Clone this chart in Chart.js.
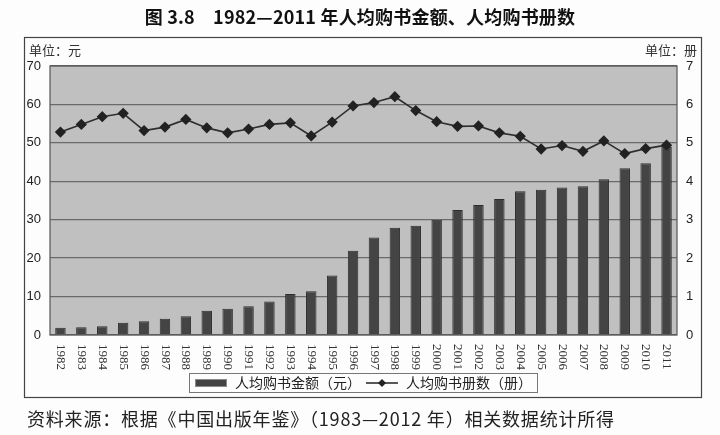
<!DOCTYPE html>
<html><head><meta charset="utf-8">
<script src="https://cdn.jsdelivr.net/npm/chart.js@4.4.1/dist/chart.umd.min.js"></script>
<style>
html,body{margin:0;padding:0;background:#fff;}
#wrap{position:relative;width:720px;height:435px;overflow:hidden;background:#fdfdfd;}
canvas{position:absolute;left:0;top:0;}
#title{position:absolute;left:0;top:6px;width:720px;text-align:center;font:bold 18px/20px "Noto Sans CJK SC";color:#111;letter-spacing:0.2px;}
#src{position:absolute;left:27px;top:407px;font:18px/22px "Noto Sans CJK SC";color:#222;letter-spacing:0.8px;}
.unit{position:absolute;top:42px;font:13px/16px "Noto Sans CJK SC";color:#333;}
</style></head>
<body><div id="wrap">
<canvas id="c" width="720" height="435"></canvas>
<div id="title">图 3.8　1982—2011 年人均购书金额、人均购书册数</div>
<div class="unit" style="left:29px">单位：元</div>
<div class="unit" style="right:23px">单位：册</div>
<div id="src">资料来源：根据《中国出版年鉴》（1983—2012 年）相关数据统计所得</div>
</div>
<script>
const years = ['1982','1983','1984','1985','1986','1987','1988','1989','1990','1991','1992','1993','1994','1995','1996','1997','1998','1999','2000','2001','2002','2003','2004','2005','2006','2007','2008','2009','2010','2011'];
const amountYuan = [1.9,2.0,2.25,3.2,3.6,4.2,4.9,6.3,6.8,7.5,8.7,10.7,11.4,15.5,21.9,25.4,27.9,28.4,30.0,32.5,33.8,35.4,37.4,37.8,38.4,38.7,40.5,43.4,44.7,49.0];
const copiesBooks = [5.28,5.48,5.68,5.77,5.32,5.41,5.61,5.39,5.26,5.36,5.48,5.52,5.18,5.54,5.96,6.05,6.2,5.84,5.55,5.43,5.44,5.26,5.17,4.84,4.93,4.78,5.05,4.72,4.85,4.94];
const leftTicks = [0,10,20,30,40,50,60,70];
const rightTicks = [0,1,2,3,4,5,6,7];
const seriesNames = ['人均购书金额（元）','人均购书册数（册）'];

// legend icons
const barIcon = document.createElement('canvas');
barIcon.width = 32; barIcon.height = 8;
(function(){const g=barIcon.getContext('2d');g.fillStyle='#444';g.fillRect(0,0,32,8);g.strokeStyle='#8a8a8a';g.lineWidth=1;g.strokeRect(0.5,0.5,31,7);})();
const lineIcon = document.createElement('canvas');
lineIcon.width = 32; lineIcon.height = 10;
(function(){const g=lineIcon.getContext('2d');g.strokeStyle='#222';g.lineWidth=1.5;g.beginPath();g.moveTo(0,5);g.lineTo(32,5);g.stroke();
g.fillStyle='#222';g.beginPath();g.moveTo(16,1);g.lineTo(20,5);g.lineTo(16,9);g.lineTo(12,5);g.closePath();g.fill();})();

const deco = {
  id:'deco',
  beforeDraw(chart){
    const a = chart.chartArea, ctx = chart.ctx;
    ctx.save();
    ctx.fillStyle = '#c0c0c0';
    ctx.fillRect(a.left, a.top, a.right-a.left, a.bottom-a.top);
    ctx.restore();
  },
  beforeDatasetsDraw(chart){
    const a = chart.chartArea, ctx = chart.ctx;
    ctx.save();
    ctx.strokeStyle = '#555'; ctx.lineWidth = 1.2;
    ctx.strokeRect(a.left, a.top, a.right-a.left, a.bottom-a.top);
    ctx.restore();
  },
  afterDraw(chart){
    const a = chart.chartArea, ctx = chart.ctx, xs = chart.scales.x;
    ctx.save();
    ctx.fillStyle = '#333';
    ctx.font = '13px "Liberation Serif"';
    ctx.textAlign = 'left'; ctx.textBaseline = 'middle';
    years.forEach((y,i)=>{
      const x = xs.getPixelForTick(i);
      ctx.save(); ctx.translate(x, a.bottom + 9); ctx.rotate(Math.PI/2);
      ctx.fillText(y, 0, 0); ctx.restore();
    });
    ctx.strokeStyle = '#444'; ctx.lineWidth = 1.2;
    ctx.strokeRect(24.5, 37.5, 677, 360);
    const hb = chart.legend.legendHitBoxes;
    if (hb && hb.length){
      let l = Infinity, r = -Infinity, t = Infinity, b = -Infinity;
      hb.forEach(h=>{l=Math.min(l,h.left);r=Math.max(r,h.left+h.width);t=Math.min(t,h.top);b=Math.max(b,h.top+h.height);});
      ctx.strokeStyle = '#777'; ctx.lineWidth = 1;
      ctx.strokeRect(Math.round(l-5)+0.5, Math.round(t-3)+0.5, Math.round(r-l+10), Math.round(b-t+5));
    }
    ctx.restore();
  }
};

new Chart(document.getElementById('c'), {
  data: {
    labels: years,
    datasets: [
      { type:'bar', label: seriesNames[0], data: amountYuan, yAxisID:'y', order:1,
        backgroundColor:'#444', borderColor:'#2e2e2e', borderWidth:1,
        barPercentage:0.5, categoryPercentage:1.0 },
      { type:'line', label: seriesNames[1], data: copiesBooks, yAxisID:'y1', order:0,
        borderColor:'#2e2e2e', borderWidth:1.6, pointStyle:'rectRot', pointRadius:4.5,
        pointBackgroundColor:'#222', pointBorderColor:'#222', tension:0 }
    ]
  },
  options: {
    responsive:false, animation:false, devicePixelRatio:1,
    layout:{ padding:{ top:66, left:24, right:18, bottom:35 } },
    plugins:{
      tooltip:{enabled:false},
      title:{display:false},
      legend:{
        position:'bottom',
        labels:{
          usePointStyle:true, pointStyleWidth:34, boxHeight:14, padding:4,
          color:'#222', font:{size:14, family:'"Noto Sans CJK SC"'},
          generateLabels(){
            return [
              {text:seriesNames[0], pointStyle:barIcon, datasetIndex:0, hidden:false, fontColor:'#222', lineWidth:0, strokeStyle:'transparent', fillStyle:'#444'},
              {text:seriesNames[1], pointStyle:lineIcon, datasetIndex:1, hidden:false, fontColor:'#222', lineWidth:0, strokeStyle:'transparent', fillStyle:'#222'}
            ];
          }
        }
      }
    },
    scales:{
      x:{
        grid:{display:false}, border:{display:false},
        ticks:{display:false},
        afterFit(s){ s.height = 37; }
      },
      y:{
        position:'left', min:0, max:70,
        afterBuildTicks(s){ s.ticks = leftTicks.map(v=>({value:v})); },
        grid:{color:'#6a6a6a', lineWidth:1.3, drawTicks:false},
        border:{display:false},
        ticks:{padding:9, color:'#222', font:{size:13, family:'"Liberation Sans"'}},
        afterFit(s){ s.width = 26; }
      },
      y1:{
        position:'right', min:0, max:7,
        afterBuildTicks(s){ s.ticks = rightTicks.map(v=>({value:v})); },
        grid:{display:false, drawTicks:false},
        border:{display:false},
        ticks:{padding:9, color:'#222', font:{size:13, family:'"Liberation Sans"'}},
        afterFit(s){ s.width = 25; }
      }
    }
  },
  plugins:[deco]
});
</script>
</body></html>
